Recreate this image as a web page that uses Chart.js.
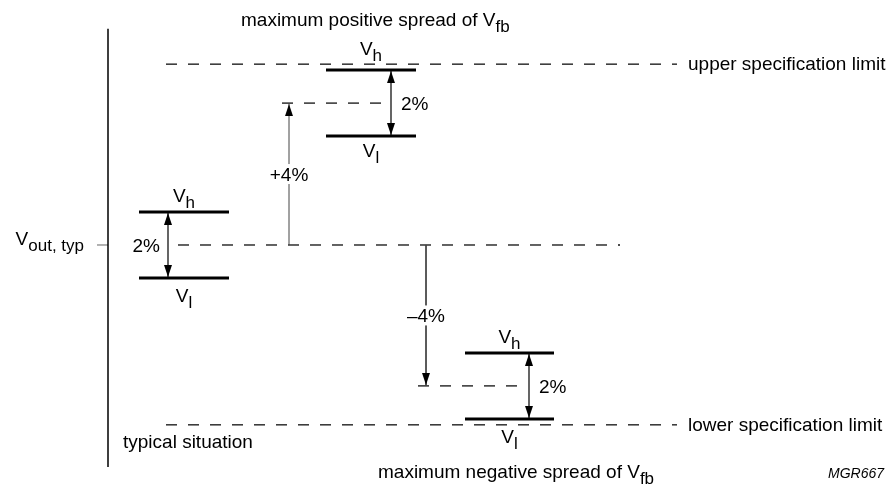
<!DOCTYPE html>
<html>
<head>
<meta charset="utf-8">
<script src="https://cdn.jsdelivr.net/npm/chart.js@4/dist/chart.umd.min.js"></script>
<style>
  html, body { margin: 0; padding: 0; background: #fff; }
  #wrap { width: 889px; height: 488px; }
</style>
</head>
<body>
<div id="wrap"><canvas id="chart-spread"></canvas></div>
<script>
(function() {
    "use strict";

    // Levels in % relative to Vout,typ (as drawn in the reference)
    var situations = ['typical situation', 'maximum positive spread of Vfb', 'maximum negative spread of Vfb'];
    var centreLevels = [0, 4.3, -4.27];
    var bandSpreads = [2, 2, 2];
    var spreadLabels = ['2%', '2%', '2%'];
    var shiftLabels = ['', '+4%', '\u20134%'];
    var specLevels = [5.48, -5.45];
    var specLabels = ['upper specification limit', 'lower specification limit'];

    // Horizontal layout of the schematic (diagram units)
    var layout = {
        axisX: 108,
        axisSpan: [6.55, -6.73],
        tick: [97, 108],
        bands: [[139, 229], [326, 416], [465, 554]],
        arrows: [168, 391, 529],
        shifts: [null, 289, 426],
        refDash: [[178, 620], [282, 383], [418, 520]],
        spec: [166, 677]
    };

    var MAIN_FONT = '19px "Liberation Sans", Arial, sans-serif';
    var SUB_FONT = '17px "Liberation Sans", Arial, sans-serif';
    var SUB_SHIFT = 6;

    function arrowHead(len, half, off) {
        var c = document.createElement('canvas');
        c.width = half * 2 + 2;
        c.height = (len + off) * 2;
        var g = c.getContext('2d');
        var cx = c.width / 2, cy = c.height / 2 + off;
        g.fillStyle = '#000';
        g.beginPath();
        g.moveTo(cx, cy);
        g.lineTo(cx - half, cy + len);
        g.lineTo(cx + half, cy + len);
        g.closePath();
        g.fill();
        return c;
    }
    var arrowImg = arrowHead(12, 4, 1);

    function seg(x0, x1, y0, y1) {
        return [{x: x0, y: y0}, {x: x1, y: y1}];
    }

    var datasets = [];
    function line(data, color, width, dash, order) {
        datasets.push({
            data: data, showLine: true, borderColor: color, borderWidth: width,
            borderDash: dash || [], pointRadius: 0, order: order
        });
    }
    function heads(data, rotations) {
        datasets.push({
            data: data, showLine: false, pointStyle: arrowImg, pointRadius: 6,
            rotation: rotations, order: 0
        });
    }

    // vertical axis and Vout,typ tick
    line(seg(layout.axisX, layout.axisX, layout.axisSpan[0], layout.axisSpan[1]), '#000', 1.5, null, 2);
    line(seg(layout.tick[0], layout.tick[1], 0, 0), '#666', 1, null, 2);

    // specification limits
    specLevels.forEach(function(v) {
        line(seg(layout.spec[0], layout.spec[1], v, v), '#111', 1.3, [11, 11], 3);
    });

    centreLevels.forEach(function(c, i) {
        var hi = c + bandSpreads[i] / 2, lo = c - bandSpreads[i] / 2;
        var b = layout.bands[i], ax = layout.arrows[i], rd = layout.refDash[i];
        line(seg(b[0], b[1], hi, hi), '#000', 3, null, 1);
        line(seg(b[0], b[1], lo, lo), '#000', 3, null, 1);
        line(seg(ax, ax, hi, lo), '#000', 1.2, null, 2);
        heads([{x: ax, y: hi}, {x: ax, y: lo}], [0, 180]);
        line(seg(rd[0], rd[1], c, c), '#111', 1.3, [11, 11], 3);
        if (layout.shifts[i] !== null) {
            var sx = layout.shifts[i];
            line(seg(sx, sx, 0, c), '#444', 1, null, 2);
            heads([{x: sx, y: c}], [c > 0 ? 0 : 180]);
        }
    });

    function drawRich(ctx, parts, x, y, align) {
        var w = 0;
        parts.forEach(function(p) {
            ctx.font = p[1] ? SUB_FONT : MAIN_FONT;
            w += ctx.measureText(p[0]).width;
        });
        var start = align === 'center' ? x - w / 2 : (align === 'right' ? x - w : x);
        parts.forEach(function(p) {
            ctx.font = p[1] ? SUB_FONT : MAIN_FONT;
            ctx.fillText(p[0], start, y + (p[1] ? SUB_SHIFT : 0));
            start += ctx.measureText(p[0]).width;
        });
        return w;
    }

    var textPlugin = {
        id: 'diagramText',
        afterDraw: function(chart) {
            var ctx = chart.ctx, xs = chart.scales.x, ys = chart.scales.y;
            ctx.save();
            ctx.fillStyle = '#000';
            ctx.textAlign = 'left';
            ctx.textBaseline = 'alphabetic';

            centreLevels.forEach(function(c, i) {
                var hi = c + bandSpreads[i] / 2, lo = c - bandSpreads[i] / 2;
                var b = layout.bands[i];
                var cx = xs.getPixelForValue((b[0] + b[1]) / 2);
                drawRich(ctx, [['V', 0], ['h', 1]], cx, ys.getPixelForValue(hi) - (i === 1 ? 15 : 10), 'center');
                drawRich(ctx, [['V', 0], ['l', 1]], cx, ys.getPixelForValue(lo) + (i === 1 ? 21 : 24), 'center');
                var ax = xs.getPixelForValue(layout.arrows[i]);
                var yb = ys.getPixelForValue(c) + 7;
                if (i === 0) drawRich(ctx, [[spreadLabels[i], 0]], ax - 8, yb, 'right');
                else drawRich(ctx, [[spreadLabels[i], 0]], ax + 10, yb, 'left');

                if (shiftLabels[i]) {
                    var sx = xs.getPixelForValue(layout.shifts[i]);
                    var mid = (ys.getPixelForValue(0) + ys.getPixelForValue(c)) / 2;
                    ctx.font = MAIN_FONT;
                    var w = ctx.measureText(shiftLabels[i]).width;
                    ctx.fillStyle = '#fff';
                    ctx.fillRect(sx - w / 2 - 2, mid - 10, w + 4, 20);
                    ctx.fillStyle = '#000';
                    drawRich(ctx, [[shiftLabels[i], 0]], sx, mid + 7, 'center');
                }
            });

            specLevels.forEach(function(v, i) {
                drawRich(ctx, [[specLabels[i], 0]], 688, ys.getPixelForValue(v) + 6, 'left');
            });

            drawRich(ctx, [['V', 0], ['out, typ', 1]], 84, ys.getPixelForValue(0), 'right');

            // captions
            var top = chart.chartArea.top, left = chart.chartArea.left;
            drawRich(ctx, [['maximum positive spread of V', 0], ['fb', 1]], left + 241, top + 26, 'left');
            drawRich(ctx, [['maximum negative spread of V', 0], ['fb', 1]], left + 378, top + 478, 'left');
            drawRich(ctx, [[situations[0], 0]], left + 123, top + 448, 'left');
            ctx.font = 'italic 14px "Liberation Sans", Arial, sans-serif';
            ctx.fillText('MGR667', left + 828, top + 478);
            ctx.restore();
        }
    };

    new Chart(document.getElementById('chart-spread').getContext('2d'), {
        type: 'scatter',
        data: { datasets: datasets },
        options: {
            responsive: true,
            maintainAspectRatio: false,
            animation: false,
            events: [],
            layout: { padding: 0, autoPadding: false },
            plugins: { legend: { display: false }, tooltip: { enabled: false } },
            scales: {
                x: { type: 'linear', display: false, min: 0, max: 889 },
                y: { type: 'linear', display: false, min: -7.364, max: 7.424 }
            }
        },
        plugins: [textPlugin]
    });
})();
</script>
</body>
</html>
